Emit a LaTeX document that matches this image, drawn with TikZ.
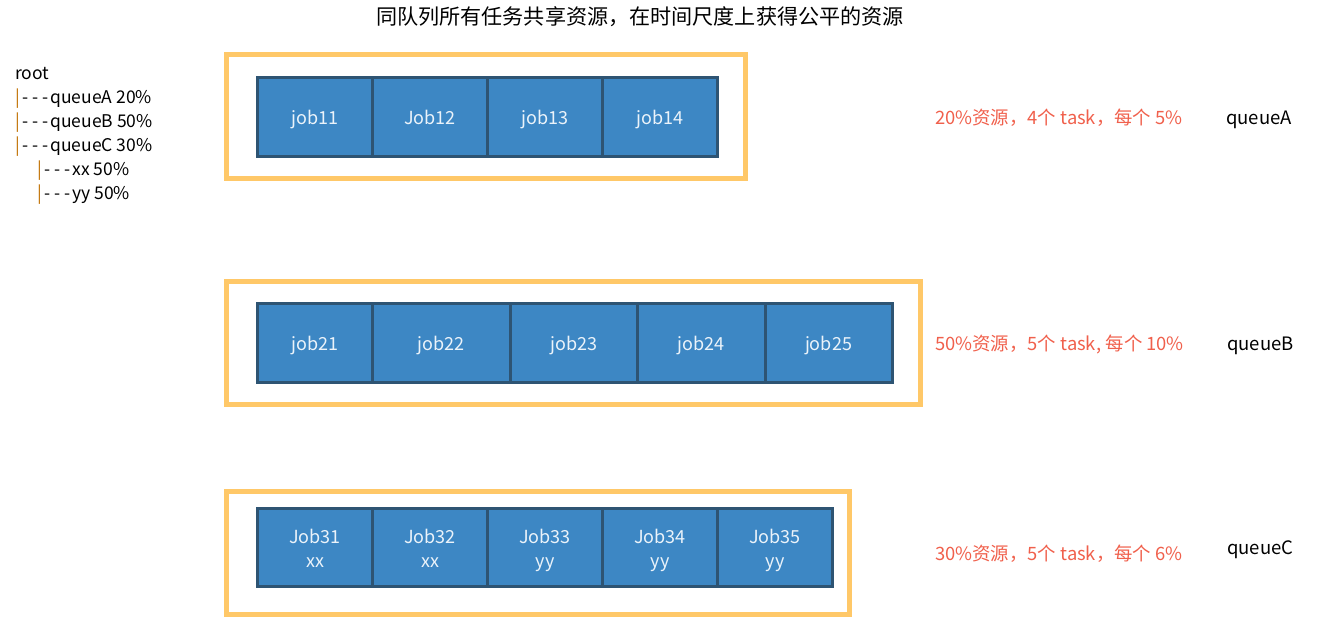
\documentclass[tikz,border=0pt]{standalone}
\usepackage{fontspec}
\setmainfont{Noto Sans CJK SC}[Ligatures=TeXOff]
\usepackage{tikz}
\usetikzlibrary{positioning}
\definecolor{boxorange}{RGB}{255,200,104}
\definecolor{jobblue}{RGB}{61,135,196}
\definecolor{jobedge}{RGB}{46,84,115}
\definecolor{jobtext}{RGB}{235,243,250}
\definecolor{sharered}{RGB}{240,96,76}
\definecolor{treebar}{RGB}{192,112,0}
\tikzset{
  queuebox/.style={draw=boxorange, line width=5pt},
  jobcell/.style={draw=jobedge, fill=jobblue, line width=3pt, text=jobtext,
    minimum height=78.5pt, inner sep=0pt, outer sep=0pt, align=center,
    font=\fontsize{18}{24}\selectfont},
  treeline/.style={anchor=west, inner sep=0pt, yshift=-2pt, font=\fontsize{17.5}{20}\selectfont,
    execute at begin node=\strut},
  share/.style={anchor=west, inner sep=0pt, yshift=-3pt, text=sharered, font=\fontsize{18.4}{22}\selectfont,
    execute at begin node=\strut},
  qname/.style={anchor=west, inner sep=0pt, yshift=-3pt, font=\fontsize{18.5}{22}\selectfont,
    execute at begin node=\strut},
}
\newcommand{\tbar}{\textcolor{treebar}{|}\hspace{1pt}}
\newcommand{\tdash}{\makebox[9.8pt]{-}}
\newcommand{\cellstrut}{\rule[-4.2pt]{0pt}{24pt}}

\begin{document}
\begin{tikzpicture}[x=1pt,y=-1pt]
        \useasboundingbox (0,0) rectangle (1320,633);
        % title
        \node[inner sep=0pt, font=\fontsize{21.1}{24}\selectfont] (title) at (640,17) {同队列所有任务共享资源，在时间尺度上获得公平的资源};
        % queue tree
        \node[treeline] (root) at (15,73) {root};
        \node[treeline] (ta) at (15,97) {\tbar\tdash\tdash\tdash queueA 20\%};
        \node[treeline] (tb) at (15,121) {\tbar\tdash\tdash\tdash queueB 50\%};
        \node[treeline] (tc) at (15,145) {\tbar\tdash\tdash\tdash queueC 30\%};
        \node[treeline] (txx) at (37,169) {\tbar\tdash\tdash\tdash xx 50\%};
        \node[treeline] (tyy) at (37,193) {\tbar\tdash\tdash\tdash yy 50\%};
        % queueA
        \draw[queuebox] (226.5,54.5) rectangle (745.5,178.5);
        \foreach \l/\r/\t [count=\i] in {257.5/372.5/job11, 372.5/487.5/Job12, 487.5/602.5/job13, 602.5/717.5/job14}
            \node[jobcell, minimum width={\r-\l}] (a\i) at ({(\l+\r)/2},116.75) {\cellstrut\t};
        \node[share] (sa) at (935,117) {20\%资源，4个 task，每个 5\%};
        \node[qname] (qa) at (1226,117) {queueA};
        % queueB
        \draw[queuebox] (226.5,281.5) rectangle (920,404);
        \foreach \l/\r/\t [count=\i] in {257.5/372.5/job21, 372.5/510/job22, 510/637.5/job23, 637.5/765/job24, 765/892/job25}
            \node[jobcell, minimum width={\r-\l}] (b\i) at ({(\l+\r)/2},343) {\cellstrut\t};
        \node[share] (sb) at (935,343) {50\%资源，5个 task, 每个 10\%};
        \node[qname] (qb) at (1227,343) {queueB};
        % queueC
        \draw[queuebox] (226.5,491) rectangle (849,614);
        \foreach \l/\r/\t/\s [count=\i] in {257.5/372.5/Job31/xx, 372.5/487.5/Job32/xx, 487.5/602.5/Job33/yy, 602.5/717.5/Job34/yy, 717.5/832.5/Job35/yy}
            \node[jobcell, minimum width={\r-\l}] (c\i) at ({(\l+\r)/2},547.25) {\cellstrut\t\\\cellstrut\s};
        \node[share] (sc) at (935,553) {30\%资源，5个 task，每个 6\%};
        \node[qname] (qc) at (1227,547) {queueC};
    \end{tikzpicture}
\end{document}
